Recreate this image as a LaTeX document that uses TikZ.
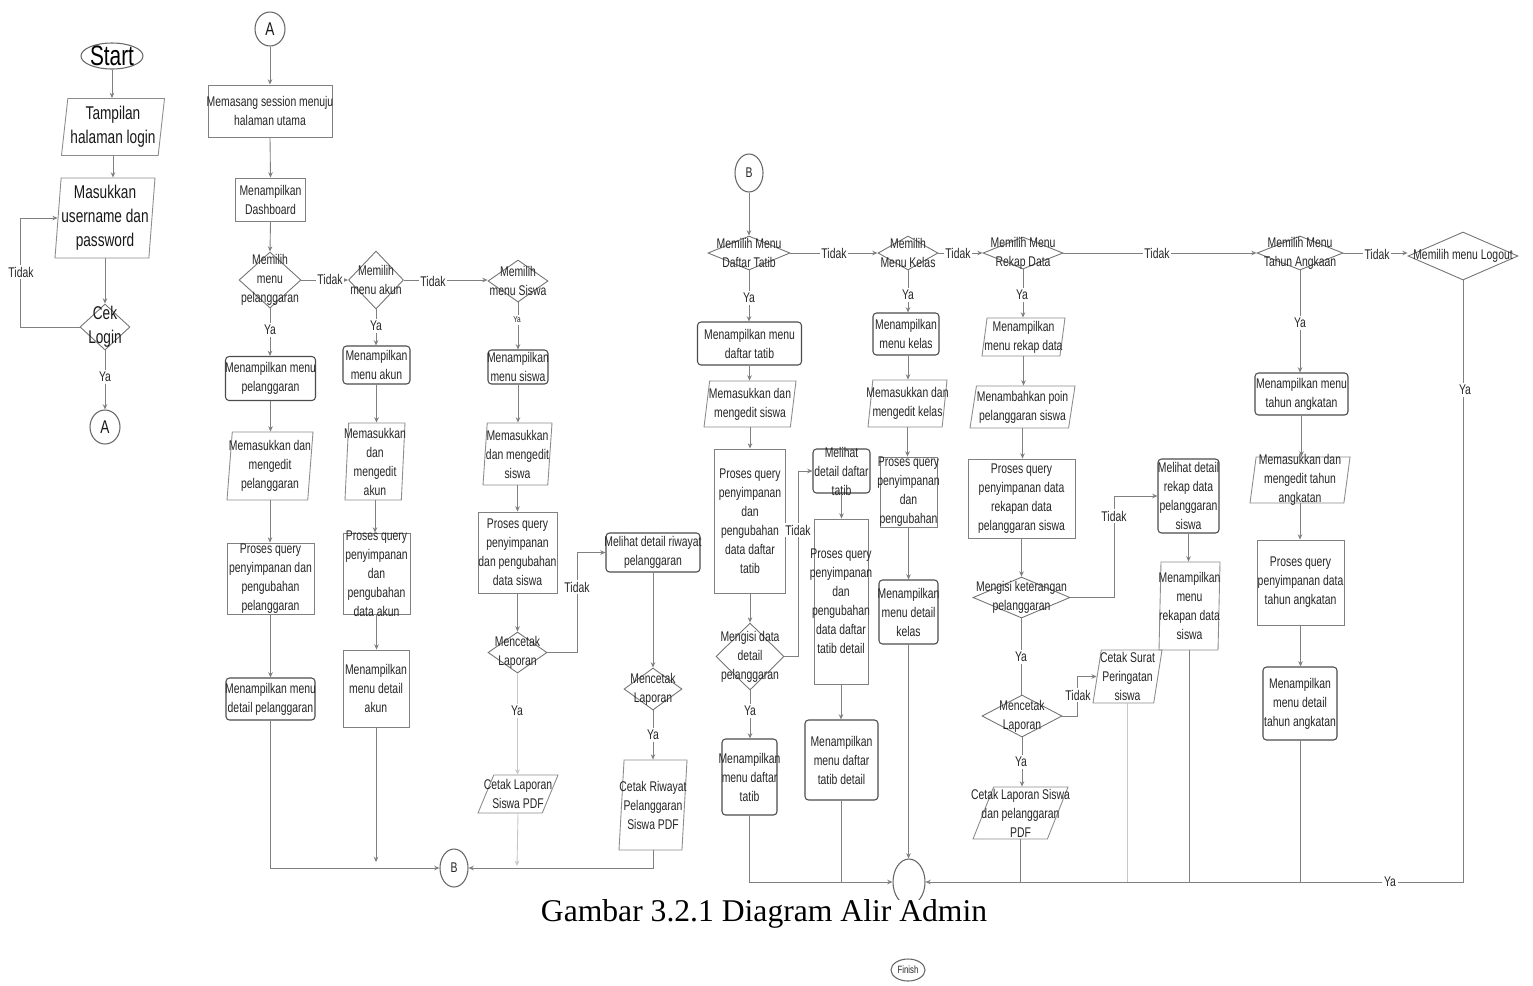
\documentclass[tikz,border=0pt]{standalone}
\usepackage{fontspec}
\setmainfont{Liberation Serif}
\newfontfamily\nar[FakeStretch=0.74]{Liberation Sans}
\usetikzlibrary{shapes.geometric,arrows.meta}
\newdimen\pxu \pxu=0.02cm
% shape node of exact size plus a centred text node on top of it
\newcommand\mkshape[7]{%
  \node[#1,minimum width=#5\pxu,minimum height=#6\pxu] (#2) at (#3,#4) {};
  \node[txt] (#2t) at (#2.center) {#7};}
\begin{document}
\begin{tikzpicture}[x=0.02cm,y=-0.02cm,
  txt/.style={font=\nar\fontsize{8}{10.8}\selectfont, align=center, inner sep=0pt, text=black!85},
  bigtxt/.style={font=\nar\fontsize{10.5}{13.6}\selectfont, align=center, inner sep=0pt, text=black!90},
  lbl/.style={txt, fill=white, inner sep=1pt},
  rbox/.style={rectangle, draw=black!70, rounded corners=2pt, inner sep=0pt, line width=0.6pt},
  pbox/.style={rectangle, draw=black!50, inner sep=0pt, line width=0.5pt},
  io/.style={trapezium, draw=black!45, trapezium left angle=#1,
    trapezium right angle=\the\numexpr180-#1\relax, trapezium stretches=true,
    inner sep=1pt, line width=0.5pt},
  io/.default=86,
  dec/.style={diamond, draw=black!55, inner sep=0pt, line width=0.5pt},
  term/.style={ellipse, draw=black!60, inner sep=0pt, line width=0.6pt},
  con/.style={ellipse, draw=black!60, inner sep=0pt, line width=0.6pt},
  ln/.style={draw=black!50, line width=0.5pt},
  arr/.style={ln, -{Stealth[length=3pt,width=2.6pt]}},
  faint/.style={draw=black!22},
]
\fill[white] (0,0) rectangle (1533,985);
\useasboundingbox (0,0) rectangle (1533,985);

% ---------- login ----------
\node[term, minimum width=62\pxu, minimum height=26\pxu] (start) at (112,56) {};
\node[font=\nar\fontsize{16}{18}\selectfont, inner sep=0pt] (startt) at (start.center) {Start};
\node[io=86, minimum width=103\pxu, minimum height=57\pxu] (tamp) at (113,127) {};
\node[bigtxt] (tampt) at (tamp.center) {Tampilan\\halaman login};
\node[io=86, minimum width=100\pxu, minimum height=80\pxu] (masuk) at (105,218) {};
\node[bigtxt] (masukt) at (masuk.center) {Masukkan\\username dan\\password};
\node[dec, minimum width=50\pxu, minimum height=46\pxu] (cek) at (105,327) {};
\node[bigtxt] (cekt) at (cek.center) {Cek\\Login};
\node[con, minimum width=30\pxu, minimum height=34\pxu] (A1) at (105,427) {};
\node[bigtxt] (A1t) at (A1.center) {A};

% ---------- menu admin ----------
\node[con, minimum width=30\pxu, minimum height=34\pxu] (A2) at (270,29) {};
\node[bigtxt] (A2t) at (A2.center) {A};
\mkshape{pbox}{sess}{270}{111}{124}{52}{Memasang session menuju\\halaman utama}
\mkshape{pbox}{dash}{270.5}{199.5}{70}{43}{Menampilkan\\Dashboard}
\mkshape{dec}{d1}{270}{280}{62}{56}{Memilih\\menu\\pelanggaran}
\mkshape{dec}{d2}{376}{280}{55}{58}{Memilih\\menu akun}
\mkshape{dec}{d3}{518}{281}{60}{42}{Memilih\\menu Siswa}
\mkshape{rbox}{mp1}{270.5}{378.5}{90}{44}{Menampilkan menu\\pelanggaran}
\mkshape{rbox}{ma1}{376.5}{365}{67}{38}{Menampilkan\\menu akun}
\mkshape{rbox}{ms1}{518}{367}{60}{34}{Menampilkan\\menu siswa}
\mkshape{io}{mp2}{270}{466}{86}{68}{Memasukkan dan\\mengedit\\pelanggaran}
\mkshape{io}{ma2}{375}{461.5}{60}{77}{Memasukkan\\dan\\mengedit\\akun}
\mkshape{io}{ms2}{517.5}{454}{69}{62}{Memasukkan\\dan mengedit\\siswa}
\mkshape{pbox}{mp3}{270.5}{578.5}{87}{71}{Proses query\\penyimpanan dan\\pengubahan\\pelanggaran}
\mkshape{pbox}{ma3}{376.5}{573.5}{67}{81}{Proses query\\penyimpanan\\dan\\pengubahan\\data akun}
\mkshape{pbox}{ms3}{517.5}{552.5}{79}{81}{Proses query\\penyimpanan\\dan pengubahan\\data siswa}
\mkshape{rbox}{mp4}{270.5}{699}{89}{42}{Menampilkan menu\\detail pelanggaran}
\mkshape{pbox}{ma4}{376}{688.5}{66}{77}{Menampilkan\\menu detail\\akun}
\mkshape{dec}{ms4}{517.5}{652.5}{59}{41}{Mencetak\\Laporan}
\mkshape{io=72}{ms5}{518}{794}{80}{38}{Cetak Laporan\\Siswa PDF}
\mkshape{rbox}{rw1}{653}{552.5}{94}{39}{Melihat detail riwayat\\pelanggaran}
\mkshape{dec}{rw2}{653}{689}{58}{42}{Mencetak\\Laporan}
\mkshape{io=85}{rw3}{653}{805}{68}{90}{Cetak Riwayat\\Pelanggaran\\Siswa PDF}
\node[con, minimum width=28\pxu, minimum height=38\pxu] (B1) at (454,868) {};
\node[txt] (B1t) at (B1.center) {B};
\coordinate (ma4end) at (376,862);
\coordinate (ms5end) at (517,866);

% ---------- menu lanjutan ----------
\node[con, minimum width=28\pxu, minimum height=38\pxu] (B2) at (749,173) {};
\node[txt] (B2t) at (B2.center) {B};
\mkshape{dec}{e1}{749}{253}{82}{34}{Memilih Menu\\Daftar Tatib}
\mkshape{dec}{e2}{908}{253}{60}{34}{Memilih\\Menu Kelas}
\mkshape{dec}{e3}{1023}{253}{80}{32}{Memilih Menu\\Rekap Data}
\mkshape{dec}{e4}{1300}{253}{86}{34}{Memilih Menu\\Tahun Angkaan}
\mkshape{dec}{e5}{1463}{256}{110}{48}{Memilih menu Logout}
\mkshape{rbox}{t1}{749.5}{343.5}{104}{43}{Menampilkan menu\\daftar tatib}
\mkshape{io}{t2}{750}{404}{92}{46}{Memasukkan dan\\mengedit siswa}
\mkshape{pbox}{t3}{750}{521}{71}{144}{Proses query\\penyimpanan\\dan\\pengubahan\\data daftar\\tatib}
\mkshape{dec}{t4}{750}{656.5}{68}{67}{Mengisi data\\detail\\pelanggaran}
\mkshape{rbox}{t5}{749.5}{777}{55}{76}{Menampilkan\\menu daftar\\tatib}
\mkshape{rbox}{tt1}{841.5}{471}{57}{44}{Melihat\\detail daftar\\tatib}
\mkshape{pbox}{tt2}{841}{601.5}{54}{165}{Proses query\\penyimpanan\\dan\\pengubahan\\data daftar\\tatib detail}
\mkshape{rbox}{tt3}{841.5}{760}{73}{80}{Menampilkan\\menu daftar\\tatib detail}
\node[con, minimum width=32\pxu, minimum height=46\pxu] (M) at (909,882) {};
\mkshape{rbox}{k1}{906}{334}{66}{42}{Menampilkan\\menu kelas}
\mkshape{io}{k2}{907.5}{403.5}{79}{47}{Memasukkan dan\\mengedit kelas}
\mkshape{pbox}{k3}{908.5}{492}{57}{70}{Proses query\\penyimpanan\\dan\\pengubahan}
\mkshape{rbox}{k4}{908.5}{612}{59}{64}{Menampilkan\\menu detail\\kelas}
\mkshape{io}{r1}{1023.5}{337}{83}{38}{Menampilkan\\menu rekap data}
\mkshape{io}{r2}{1022.5}{407}{105}{42}{Menambahkan poin\\pelanggaran siswa}
\mkshape{pbox}{r3}{1021.5}{498.5}{107}{79}{Proses query\\penyimpanan data\\rekapan data\\pelanggaran siswa}
\mkshape{dec}{r4}{1021.5}{597.5}{97}{41}{Mengisi keterangan\\pelanggaran}
\mkshape{dec}{r5}{1022}{716}{80}{42}{Mencetak\\Laporan}
\mkshape{io=69}{r6}{1020.5}{813}{95}{52}{Cetak Laporan Siswa\\dan pelanggaran\\PDF}
\mkshape{rbox}{rr1}{1188.5}{496}{61}{74}{Melihat detail\\rekap data\\pelanggaran\\siswa}
\mkshape{io=88}{rr2}{1189.5}{606}{61}{88}{Menampilkan\\menu\\rekapan data\\siswa}
\mkshape{io=81}{rs}{1127.5}{676.5}{69}{53}{Cetak Surat\\Peringatan\\siswa}
\mkshape{rbox}{y1}{1301.5}{394}{93}{42}{Menampilkan menu\\tahun angkatan}
\mkshape{io}{y2}{1300}{480}{100}{46}{Memasukkan dan\\mengedit tahun\\angkatan}
\mkshape{pbox}{y3}{1300.5}{582.5}{87}{85}{Proses query\\penyimpanan data\\tahun angkatan}
\mkshape{rbox}{y4}{1300}{703.5}{74}{73}{Menampilkan\\menu detail\\tahun angkatan}

% ---------- connectors: login ----------
\draw[arr] (start.south) -- (start.south |- tamp.north);
\draw[arr] (tamp.south) -- (tamp.south |- masuk.north);
\draw[arr] (masuk.south) -- (masuk.south |- cek.north);
\draw[arr] (cek.south) -- (A1.north);
\draw[arr] (cek.west) -- ++(-59,0) |- (masuk.west);

% ---------- connectors: menu admin ----------
\draw[arr] (A2.south) -- (sess.north);
\draw[arr] (sess.south) -- (dash.north);
\draw[arr] (dash.south) -- (d1.north);
\draw[arr] (d1.east) -- (d2.west);
\draw[arr] (d2.east) -- (d2.east -| d3.west);
\draw[arr] (d1.south) -- (d1.south |- mp1.north);
\draw[arr] (d2.south) -- (d2.south |- ma1.north);
\draw[arr] (d3.south) -- (d3.south |- ms1.north);
\draw[arr] (mp1.south) -- (mp1.south |- mp2.north);
\draw[arr] (mp2.south) -- (mp2.south |- mp3.north);
\draw[arr] (mp3.south) -- (mp3.south |- mp4.north);
\draw[arr] (ma1.south) -- (ma1.south |- ma2.north);
\draw[arr] (ma2.south) -- (ma2.south |- ma3.north);
\draw[arr] (ma3.south) -- (ma3.south |- ma4.north);
\draw[arr] (ms1.south) -- (ms1.south |- ms2.north);
\draw[arr] (ms2.south) -- (ms2.south |- ms3.north);
\draw[arr] (ms3.south) -- (ms3.south |- ms4.north);
\draw[arr, faint] (ms4.south) -- (ms4.south |- ms5.north);
\draw[arr] (ms4.east) -- ++(30,0) |- (rw1.west);
\draw[arr] (rw1.south) -- (rw2.north);
\draw[arr] (rw2.south) -- (rw3.north);
\draw[arr] (mp4.south) |- (B1.west);
\draw[arr] (ma4.south) -- (ma4end);
\draw[arr, faint] (ms5.south) -- (ms5end);
\draw[arr] (rw3.south) |- (B1.east);

% ---------- connectors: menu lanjutan ----------
\draw[arr] (B2.south) -- (e1.north);
\draw[arr] (e1.east) -- (e2.west);
\draw[arr] (e2.east) -- (e3.west);
\draw[arr] (e3.east) -- (e4.west);
\draw[arr] (e4.east) -- (e4.east -| e5.west);
\draw[arr] (e1.south) -- (e1.south |- t1.north);
\draw[arr] (t1.south) -- (t1.south |- t2.north);
\draw[arr] (t2.south) -- (t2.south |- t3.north);
\draw[arr] (t3.south) -- (t3.south |- t4.north);
\draw[arr] (t4.south) -- (t4.south |- t5.north);
\draw[arr] (t4.east) -- ++(14,0) |- (tt1.west);
\draw[arr] (tt1.south) -- (tt1.south |- tt2.north);
\draw[arr] (tt2.south) -- (tt2.south |- tt3.north);
\draw[arr] (t5.south) |- (M.west);
\draw[ln] (tt3.south) -- (tt3.south |- M.west);
\draw[arr] (e2.south) -- (e2.south |- k1.north);
\draw[arr] (k1.south -| e2.south) -- (e2.south |- k2.north);
\draw[arr] (k2.south) -- (k2.south |- k3.north);
\draw[arr] (k3.south) -- (k3.south |- k4.north);
\draw[arr] (k4.south) -- (k4.south |- M.north);
\draw[arr] (e3.south) -- (e3.south |- r1.north);
\draw[arr] (r1.south) -- (r1.south |- r2.north);
\draw[arr] (r2.south) -- (r2.south |- r3.north);
\draw[arr] (r3.south) -- (r3.south |- r4.north);
\draw[ln] (r4.south) -- (r4.south |- r5.north);
\draw[arr] (r4.east) -- ++(44,0) |- (rr1.west);
\draw[arr] (rr1.south) -- (rr1.south |- rr2.north);
\draw[arr] (r5.east) -- ++(15,0) |- (rs.west);
\draw[arr] (r5.south) -- (r5.south |- r6.north);
\draw[ln] (r6.south) -- (r6.south |- M.east);
\draw[ln, faint] (rs.south) -- (rs.south |- M.east);
\draw[ln] (rr2.south) -- (rr2.south |- M.east);
\draw[arr] (e4.south) -- (e4.south |- y1.north);
\draw[arr] (y1.south) -- (y1.south |- y2.north);
\draw[arr] (y2.south) -- (y2.south |- y3.north);
\draw[arr] (y3.south) -- (y3.south |- y4.north);
\draw[ln] (y4.south) -- (y4.south |- M.east);
\draw[arr] (e5.south) |- (M.east);

% ---------- branch labels ----------
\node[lbl] (la1) at (21,272) {Tidak};
\node[lbl] (la2) at (105,377) {Ya};
\node[lbl] (la3) at (330,279) {Tidak};
\node[lbl] (la4) at (433,281) {Tidak};
\node[lbl] (la5) at (270,330) {Ya};
\node[lbl] (la6) at (376,326) {Ya};
\node[lbl, font=\nar\fontsize{5}{6}\selectfont] (la7) at (517,320) {Ya};
\node[lbl] (la8) at (577,587) {Tidak};
\node[lbl] (la9) at (517,711) {Ya};
\node[lbl] (la10) at (653,735) {Ya};
\node[lbl] (lb1) at (834,253) {Tidak};
\node[lbl] (lb2) at (958,253) {Tidak};
\node[lbl] (lb3) at (1157,253) {Tidak};
\node[lbl] (lb4) at (1377,254) {Tidak};
\node[lbl] (lb5) at (749,298) {Ya};
\node[lbl] (lb6) at (908,295) {Ya};
\node[lbl] (lb7) at (1022,295) {Ya};
\node[lbl] (lb8) at (1300,323) {Ya};
\node[lbl] (lb9) at (1465,390) {Ya};
\node[lbl] (lb10) at (798,530) {Tidak};
\node[lbl] (lb11) at (750,711) {Ya};
\node[lbl] (lb12) at (1114,516) {Tidak};
\node[lbl] (lb13) at (1021,657) {Ya};
\node[lbl] (lb14) at (1078,695) {Tidak};
\node[lbl] (lb15) at (1021,762) {Ya};
\node[lbl] (lb16) at (1390,882) {Ya};

% ---------- caption and end ----------
\node[font=\fontsize{18}{21}\selectfont, fill=white, inner sep=0pt] (cap) at (764,914) {Gambar 3.2.1 Diagram Alir Admin};
\node[term, minimum width=34\pxu, minimum height=22\pxu] (fin) at (908,970) {};
\node[txt, font=\nar\fontsize{6}{7}\selectfont] (fint) at (fin.center) {Finish};
\end{tikzpicture}
\end{document}
